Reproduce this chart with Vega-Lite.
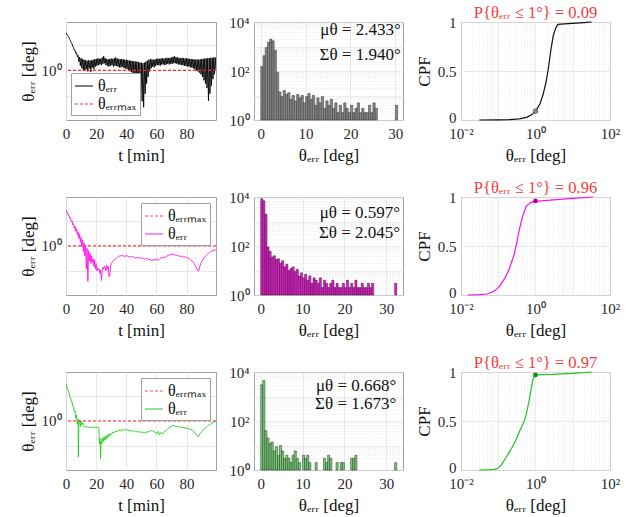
{
"$schema": "https://vega.github.io/schema/vega-lite/v6.json",
"background": "white",
"padding": {"left": 18, "top": 4, "right": 5, "bottom": 2},
"config": {
  "font": "Liberation Serif",
  "axis": {"labelFont": "Liberation Serif", "titleFont": "Liberation Serif", "labelFontSize": 15, "titleFontSize": 17, "titleFontWeight": "normal", "labelColor": "#262626", "titleColor": "#111111", "gridColor": "#e2e2e2", "gridWidth": 0.8, "domain": false, "ticks": false, "labelFlush": false, "labelOverlap": false, "labelPadding": 5, "titlePadding": 4},
  "axisX": {"labelPadding": 6, "titlePadding": 6},
  "view": {"stroke": "#a0a0a0", "strokeWidth": 1},
  "title": {"font": "Liberation Serif", "fontSize": 16.5, "fontWeight": "normal", "color": "#f03c3c", "offset": -6},
  "text": {"font": "Liberation Serif"},
  "legend": {"labelFont": "Liberation Serif", "labelFontSize": 16, "symbolType": "stroke", "symbolSize": 330, "symbolStrokeWidth": 1.2, "fillColor": "white", "strokeColor": "#a0a0a0", "padding": 3, "rowPadding": 0, "offset": 6, "labelLimit": 200, "labelColor": "#111111"}
},
"datasets": {
  "ts1": [
{"t":0,"v":30},{"t":0.5,"v":27},{"t":1,"v":24},{"t":1.5,"v":21.5},{"t":2,"v":19},{"t":2.5,"v":16.5},{"t":3,"v":14.5},{"t":3.5,"v":12.5},{"t":4,"v":11},{"t":4.5,"v":8.5},{"t":5,"v":8.2},{"t":5.5,"v":6.2},{"t":6,"v":6.3},{"t":6.5,"v":4.6},{"t":7,"v":4.9},{"t":7.5,"v":3.4},{"t":8,"v":3.9},{"t":8.5,"v":2.2},{"t":9,"v":3.3},{"t":9.5,"v":1.5},
{"t":10,"v":3.0},{"t":10.5,"v":1.2},{"t":11,"v":2.8},{"t":11.5,"v":1.0},{"t":12,"v":2.6},{"t":12.5,"v":0.95},{"t":13,"v":2.5},{"t":13.5,"v":1.1},{"t":14,"v":2.4},{"t":14.5,"v":0.9},{"t":15,"v":2.5},{"t":15.5,"v":1.2},{"t":16,"v":2.4},{"t":16.5,"v":0.85},{"t":17,"v":2.5},{"t":17.5,"v":1.3},{"t":18,"v":2.6},{"t":18.5,"v":1.1},{"t":19,"v":2.7},{"t":19.5,"v":1.4},
{"t":20,"v":2.8},{"t":20.5,"v":1.5},{"t":21,"v":2.9},{"t":21.5,"v":1.6},{"t":22,"v":2.9},{"t":22.5,"v":1.7},{"t":23,"v":2.8},{"t":23.5,"v":1.6},{"t":24,"v":3.2},{"t":24.5,"v":1.8},{"t":25,"v":3.6},{"t":25.5,"v":1.9},{"t":26,"v":3.0},{"t":26.5,"v":1.6},{"t":27,"v":2.8},{"t":27.5,"v":1.5},{"t":28,"v":2.7},{"t":28.5,"v":1.4},{"t":29,"v":2.8},{"t":29.5,"v":1.5},
{"t":30,"v":2.9},{"t":30.5,"v":1.6},{"t":31,"v":2.8},{"t":31.5,"v":1.4},{"t":32,"v":3.0},{"t":32.5,"v":1.5},{"t":33,"v":3.2},{"t":33.5,"v":1.5},{"t":34,"v":2.9},{"t":34.5,"v":1.4},{"t":35,"v":2.8},{"t":35.5,"v":1.3},{"t":36,"v":2.7},{"t":36.5,"v":1.3},{"t":37,"v":2.8},{"t":37.5,"v":1.4},{"t":38,"v":2.7},{"t":38.5,"v":1.2},{"t":39,"v":2.6},{"t":39.5,"v":1.2},
{"t":40,"v":2.6},{"t":40.5,"v":1.1},{"t":41,"v":2.5},{"t":41.5,"v":1.0},{"t":42,"v":2.4},{"t":42.5,"v":0.9},{"t":43,"v":2.4},{"t":43.5,"v":0.85},{"t":44,"v":2.3},{"t":44.5,"v":0.7},{"t":45,"v":2.3},{"t":45.5,"v":0.6},{"t":46,"v":2.2},{"t":46.5,"v":0.45},{"t":47,"v":2.2},{"t":47.5,"v":0.35},{"t":48,"v":2.1},{"t":48.5,"v":0.25},{"t":49,"v":2.0},{"t":49.5,"v":0.15},
{"t":50,"v":2.0},{"t":50.5,"v":0.06},{"t":51,"v":1.9},{"t":51.5,"v":0.035},{"t":52,"v":2.0},{"t":52.5,"v":0.12},{"t":53,"v":2.2},{"t":53.5,"v":0.3},{"t":54,"v":2.4},{"t":54.5,"v":0.55},{"t":55,"v":2.6},{"t":55.5,"v":0.9},{"t":56,"v":2.8},{"t":56.5,"v":1.2},{"t":57,"v":2.7},{"t":57.5,"v":1.4},{"t":58,"v":2.6},{"t":58.5,"v":1.3},{"t":59,"v":2.7},{"t":59.5,"v":1.5},
{"t":60,"v":2.8},{"t":60.5,"v":1.6},{"t":61,"v":2.9},{"t":61.5,"v":1.6},{"t":62,"v":2.8},{"t":62.5,"v":1.5},{"t":63,"v":2.9},{"t":63.5,"v":1.7},{"t":64,"v":3.0},{"t":64.5,"v":1.7},{"t":65,"v":2.9},{"t":65.5,"v":1.6},{"t":66,"v":3.0},{"t":66.5,"v":1.7},{"t":67,"v":3.1},{"t":67.5,"v":1.8},{"t":68,"v":3.0},{"t":68.5,"v":1.7},{"t":69,"v":3.1},{"t":69.5,"v":1.8},
{"t":70,"v":3.2},{"t":70.5,"v":1.8},{"t":71,"v":3.4},{"t":71.5,"v":1.9},{"t":72,"v":3.6},{"t":72.5,"v":1.9},{"t":73,"v":3.3},{"t":73.5,"v":1.8},{"t":74,"v":3.2},{"t":74.5,"v":1.7},{"t":75,"v":3.1},{"t":75.5,"v":1.7},{"t":76,"v":3.0},{"t":76.5,"v":1.6},{"t":77,"v":3.1},{"t":77.5,"v":1.6},{"t":78,"v":3.0},{"t":78.5,"v":1.5},{"t":79,"v":2.9},{"t":79.5,"v":1.5},
{"t":80,"v":3.0},{"t":80.5,"v":1.4},{"t":81,"v":2.9},{"t":81.5,"v":1.4},{"t":82,"v":2.8},{"t":82.5,"v":1.3},{"t":83,"v":2.8},{"t":83.5,"v":1.3},{"t":84,"v":2.7},{"t":84.5,"v":1.2},{"t":85,"v":2.7},{"t":85.5,"v":1.1},{"t":86,"v":2.6},{"t":86.5,"v":1.0},{"t":87,"v":2.7},{"t":87.5,"v":0.9},{"t":88,"v":2.6},{"t":88.5,"v":0.8},{"t":89,"v":2.7},{"t":89.5,"v":0.7},
{"t":90,"v":2.8},{"t":90.5,"v":0.55},{"t":91,"v":2.8},{"t":91.5,"v":0.4},{"t":92,"v":2.9},{"t":92.5,"v":0.3},{"t":93,"v":2.9},{"t":93.5,"v":0.2},{"t":94,"v":3.0},{"t":94.5,"v":0.063},{"t":95,"v":3.0},{"t":95.5,"v":0.12},{"t":96,"v":3.1},{"t":96.5,"v":0.25},{"t":97,"v":3.1},{"t":97.5,"v":0.45},{"t":98,"v":3.2},{"t":98.5,"v":0.7},{"t":99,"v":3.2},{"t":99.5,"v":1.0}
  ],
  "ts2": [
{"t":0,"v":28},{"t":0.5,"v":22},{"t":1,"v":22},{"t":1.5,"v":16.5},{"t":2,"v":17},{"t":2.5,"v":12.8},{"t":3,"v":13.2},{"t":3.5,"v":9.5},{"t":4,"v":10.2},{"t":4.5,"v":7.0},{"t":5,"v":7.9},{"t":5.5,"v":5.0},{"t":6,"v":6.2},{"t":6.5,"v":3.8},{"t":7,"v":4.8},{"t":7.5,"v":2.8},{"t":8,"v":3.7},{"t":8.5,"v":2.0},{"t":9,"v":2.9},{"t":9.5,"v":1.4},
{"t":10,"v":2.2},{"t":10.5,"v":0.9},{"t":11,"v":1.75},{"t":11.5,"v":0.6},{"t":12,"v":1.35},{"t":12.5,"v":0.4},{"t":13,"v":1.05},{"t":13.5,"v":0.12},{"t":14,"v":0.82},{"t":14.5,"v":0.039},{"t":15,"v":0.65},{"t":15.5,"v":0.25},{"t":16,"v":0.5},{"t":16.5,"v":0.2},{"t":17,"v":0.4},{"t":17.5,"v":0.22},{"t":18,"v":0.3},{"t":18.5,"v":0.15},{"t":19,"v":0.28},{"t":19.5,"v":0.12},
{"t":20,"v":0.2},{"t":20.5,"v":0.1},{"t":21,"v":0.13},{"t":21.5,"v":0.11},{"t":22,"v":0.12},{"t":22.5,"v":0.08},{"t":23,"v":0.11},{"t":23.5,"v":0.042},{"t":24,"v":0.1},{"t":24.5,"v":0.14},{"t":25,"v":0.12},{"t":25.5,"v":0.16},{"t":26,"v":0.14},{"t":26.5,"v":0.1},{"t":27,"v":0.17},{"t":27.5,"v":0.12},{"t":28,"v":0.15},{"t":28.5,"v":0.06},{"t":29,"v":0.062},{"t":29.5,"v":0.15},
{"t":30,"v":0.2},{"t":31,"v":0.24},{"t":32,"v":0.28},{"t":33,"v":0.31},{"t":34,"v":0.35},{"t":35,"v":0.39},{"t":36,"v":0.40},{"t":37,"v":0.42},{"t":38,"v":0.40},{"t":39,"v":0.38},{"t":40,"v":0.41},{"t":41,"v":0.39},{"t":42,"v":0.37},{"t":43,"v":0.36},{"t":44,"v":0.38},{"t":45,"v":0.35},{"t":46,"v":0.33},{"t":47,"v":0.34},{"t":48,"v":0.33},{"t":49,"v":0.34},
{"t":50,"v":0.32},{"t":51,"v":0.33},{"t":52,"v":0.31},{"t":53,"v":0.30},{"t":54,"v":0.32},{"t":55,"v":0.28},{"t":56,"v":0.30},{"t":57,"v":0.25},{"t":58,"v":0.29},{"t":59,"v":0.27},{"t":60,"v":0.31},{"t":61,"v":0.26},{"t":62,"v":0.30},{"t":63,"v":0.34},{"t":64,"v":0.33},{"t":65,"v":0.36},{"t":66,"v":0.35},{"t":67,"v":0.40},{"t":68,"v":0.42},{"t":69,"v":0.45},
{"t":70,"v":0.47},{"t":71,"v":0.46},{"t":72,"v":0.44},{"t":73,"v":0.43},{"t":74,"v":0.41},{"t":75,"v":0.40},{"t":76,"v":0.38},{"t":77,"v":0.39},{"t":78,"v":0.36},{"t":79,"v":0.37},{"t":80,"v":0.34},{"t":81,"v":0.33},{"t":82,"v":0.30},{"t":83,"v":0.27},{"t":84,"v":0.24},{"t":85,"v":0.20},{"t":86,"v":0.15},{"t":87,"v":0.12},{"t":87.8,"v":0.098},{"t":88.5,"v":0.13},
{"t":89,"v":0.17},{"t":90,"v":0.24},{"t":91,"v":0.30},{"t":92,"v":0.36},{"t":93,"v":0.42},{"t":94,"v":0.48},{"t":95,"v":0.55},{"t":96,"v":0.60},{"t":97,"v":0.64},{"t":98,"v":0.67},{"t":99,"v":0.68},{"t":99.5,"v":0.70}
  ],
  "ts3": [
{"t":0,"v":31},{"t":0.5,"v":24},{"t":1,"v":20},{"t":1.5,"v":15.5},{"t":2,"v":13.2},{"t":2.5,"v":9.5},{"t":3,"v":8.7},{"t":3.5,"v":6.0},{"t":4,"v":5.8},{"t":4.5,"v":3.8},{"t":5,"v":3.8},{"t":5.5,"v":2.3},{"t":6,"v":2.5},{"t":6.5,"v":1.3},{"t":7,"v":1.7},{"t":7.5,"v":0.75},{"t":8,"v":1.2},{"t":8.2,"v":0.036},{"t":8.5,"v":0.9},{"t":9,"v":1.1},
{"t":9.5,"v":0.6},{"t":10,"v":1.0},{"t":10.5,"v":0.7},{"t":11,"v":0.85},{"t":11.5,"v":0.65},{"t":12,"v":0.6},{"t":13,"v":0.58},{"t":14,"v":0.57},{"t":15,"v":0.57},{"t":16,"v":0.56},{"t":17,"v":0.57},{"t":18,"v":0.56},{"t":19,"v":0.56},{"t":20,"v":0.55},{"t":21,"v":0.55},{"t":21.8,"v":0.54},{"t":22.2,"v":0.12},{"t":22.6,"v":0.2},{"t":22.9,"v":0.032},{"t":23.3,"v":0.15},
{"t":23.7,"v":0.12},{"t":24,"v":0.2},{"t":24.5,"v":0.14},{"t":25,"v":0.22},{"t":25.5,"v":0.17},{"t":26,"v":0.25},{"t":26.5,"v":0.18},{"t":27,"v":0.26},{"t":27.5,"v":0.22},{"t":28,"v":0.3},{"t":28.5,"v":0.24},{"t":29,"v":0.31},{"t":30,"v":0.28},{"t":31,"v":0.36},{"t":32,"v":0.34},{"t":33,"v":0.40},{"t":34,"v":0.37},{"t":35,"v":0.44},{"t":36,"v":0.39},{"t":37,"v":0.46},
{"t":38,"v":0.41},{"t":39,"v":0.47},{"t":40,"v":0.42},{"t":41,"v":0.44},{"t":42,"v":0.40},{"t":43,"v":0.43},{"t":44,"v":0.38},{"t":45,"v":0.41},{"t":46,"v":0.37},{"t":47,"v":0.39},{"t":48,"v":0.35},{"t":49,"v":0.38},{"t":50,"v":0.34},{"t":51,"v":0.36},{"t":52,"v":0.33},{"t":53,"v":0.35},{"t":54,"v":0.36},{"t":55,"v":0.38},{"t":56,"v":0.40},{"t":57,"v":0.42},
{"t":58,"v":0.39},{"t":59,"v":0.36},{"t":60,"v":0.30},{"t":61,"v":0.38},{"t":62,"v":0.28},{"t":63,"v":0.35},{"t":64,"v":0.30},{"t":65,"v":0.37},{"t":66,"v":0.40},{"t":67,"v":0.45},{"t":68,"v":0.52},{"t":69,"v":0.58},{"t":70,"v":0.62},{"t":71,"v":0.66},{"t":72,"v":0.64},{"t":73,"v":0.60},{"t":74,"v":0.62},{"t":75,"v":0.57},{"t":76,"v":0.58},{"t":77,"v":0.54},
{"t":78,"v":0.56},{"t":79,"v":0.52},{"t":80,"v":0.53},{"t":81,"v":0.49},{"t":82,"v":0.47},{"t":83,"v":0.45},{"t":84,"v":0.42},{"t":85,"v":0.36},{"t":86,"v":0.30},{"t":87,"v":0.26},{"t":87.8,"v":0.23},{"t":88.5,"v":0.28},{"t":89,"v":0.32},{"t":90,"v":0.38},{"t":91,"v":0.43},{"t":92,"v":0.50},{"t":93,"v":0.55},{"t":94,"v":0.62},{"t":95,"v":0.70},{"t":96,"v":0.76},
{"t":97,"v":0.82},{"t":98,"v":0.88},{"t":99,"v":0.95},{"t":99.5,"v":1.0}
  ],
  "h1": [
{"a":0,"b":0.5,"n":150},{"a":0.5,"b":1,"n":420},{"a":1,"b":1.5,"n":900},{"a":1.5,"b":2,"n":1500},{"a":2,"b":2.5,"n":2000},{"a":2.5,"b":3,"n":1700},{"a":3,"b":3.5,"n":700},{"a":3.5,"b":4,"n":90},{"a":4,"b":4.5,"n":14},{"a":4.5,"b":5,"n":9},
{"a":5,"b":5.5,"n":16},{"a":5.5,"b":6,"n":11},{"a":6,"b":6.5,"n":13},{"a":6.5,"b":7,"n":7},{"a":7,"b":7.5,"n":10},{"a":7.5,"b":8,"n":6},{"a":8,"b":8.5,"n":11},{"a":8.5,"b":9,"n":8},{"a":9,"b":9.5,"n":10},{"a":9.5,"b":10,"n":5},
{"a":10,"b":10.5,"n":9},{"a":10.5,"b":11,"n":12},{"a":11,"b":11.5,"n":7},{"a":11.5,"b":12,"n":10},{"a":12,"b":12.5,"n":4},{"a":12.5,"b":13,"n":8},{"a":13,"b":13.5,"n":5},{"a":13.5,"b":14,"n":9},{"a":14,"b":14.5,"n":3},{"a":14.5,"b":15,"n":6},
{"a":15,"b":15.5,"n":4},{"a":15.5,"b":16,"n":7},{"a":16,"b":16.5,"n":3},{"a":16.5,"b":17,"n":5},{"a":17,"b":17.5,"n":2},{"a":17.5,"b":18,"n":4},{"a":18,"b":18.5,"n":2},{"a":18.5,"b":19,"n":5},{"a":19,"b":19.5,"n":3},{"a":19.5,"b":20,"n":2},
{"a":20,"b":20.5,"n":4},{"a":20.5,"b":21,"n":2},{"a":21,"b":21.5,"n":3},{"a":21.5,"b":22,"n":5},{"a":22,"b":22.5,"n":2},{"a":22.5,"b":23,"n":3},{"a":23,"b":23.5,"n":2},{"a":23.5,"b":24,"n":2},{"a":24,"b":24.5,"n":4},{"a":24.5,"b":25,"n":2},
{"a":25,"b":25.5,"n":5},{"a":25.5,"b":26,"n":3},{"a":30,"b":30.5,"n":4}
  ],
  "h2": [
{"a":0,"b":0.5,"n":8500},{"a":0.5,"b":1,"n":7000},{"a":1,"b":1.5,"n":2000},{"a":1.5,"b":2,"n":90},{"a":2,"b":2.5,"n":60},{"a":2.5,"b":3,"n":35},{"a":3,"b":3.5,"n":40},{"a":3.5,"b":4,"n":28},{"a":4,"b":4.5,"n":30},{"a":4.5,"b":5,"n":20},
{"a":5,"b":5.5,"n":25},{"a":5.5,"b":6,"n":14},{"a":6,"b":6.5,"n":18},{"a":6.5,"b":7,"n":10},{"a":7,"b":7.5,"n":12},{"a":7.5,"b":8,"n":14},{"a":8,"b":8.5,"n":9},{"a":8.5,"b":9,"n":11},{"a":9,"b":9.5,"n":6},{"a":9.5,"b":10,"n":8},
{"a":10,"b":10.5,"n":5},{"a":10.5,"b":11,"n":7},{"a":11,"b":11.5,"n":4},{"a":11.5,"b":12,"n":6},{"a":12,"b":12.5,"n":3},{"a":12.5,"b":13,"n":5},{"a":13,"b":13.5,"n":4},{"a":13.5,"b":14,"n":3},{"a":14,"b":14.5,"n":5},{"a":14.5,"b":15,"n":2},
{"a":15,"b":15.5,"n":4},{"a":15.5,"b":16,"n":3},{"a":16,"b":16.5,"n":2},{"a":16.5,"b":17,"n":3},{"a":17,"b":17.5,"n":4},{"a":17.5,"b":18,"n":2},{"a":18,"b":18.5,"n":3},{"a":18.5,"b":19,"n":2},{"a":19,"b":19.5,"n":2},{"a":19.5,"b":20,"n":3},
{"a":20,"b":20.5,"n":2},{"a":20.5,"b":21,"n":4},{"a":21,"b":21.5,"n":2},{"a":21.5,"b":22,"n":3},{"a":22,"b":22.5,"n":2},{"a":22.5,"b":23,"n":4},{"a":23,"b":23.5,"n":2},{"a":23.5,"b":24,"n":2},{"a":24,"b":24.5,"n":3},{"a":24.5,"b":25,"n":2},
{"a":25,"b":25.5,"n":2},{"a":25.5,"b":26,"n":3},{"a":26,"b":26.5,"n":2},{"a":26.5,"b":27,"n":3},{"a":32,"b":32.5,"n":3}
  ],
  "h3": [
{"a":0,"b":0.5,"n":3000},{"a":0.5,"b":1,"n":4500},{"a":1,"b":1.5,"n":40},{"a":1.5,"b":2,"n":20},{"a":2,"b":2.5,"n":12},{"a":2.5,"b":3,"n":14},{"a":3,"b":3.5,"n":6},{"a":3.5,"b":4,"n":9},{"a":4,"b":4.5,"n":4},{"a":4.5,"b":5,"n":10},
{"a":5,"b":5.5,"n":6},{"a":5.5,"b":6,"n":3},{"a":6,"b":6.5,"n":4},{"a":6.5,"b":7,"n":3},{"a":7,"b":7.5,"n":2},{"a":7.5,"b":8,"n":4},{"a":8,"b":8.5,"n":6},{"a":8.5,"b":9,"n":3},{"a":9,"b":9.5,"n":2},{"a":10,"b":10.5,"n":4},
{"a":10.5,"b":11,"n":3},{"a":11,"b":11.5,"n":4},{"a":11.5,"b":12,"n":2},{"a":13,"b":13.5,"n":2},{"a":15,"b":15.5,"n":3},{"a":15.5,"b":16,"n":2},{"a":16,"b":16.5,"n":4},{"a":16.5,"b":17,"n":3},{"a":18,"b":18.5,"n":2},{"a":19,"b":19.5,"n":2},
{"a":19.5,"b":20,"n":2},{"a":21.5,"b":22,"n":3},{"a":22,"b":22.5,"n":3},{"a":22.5,"b":23,"n":4},{"a":32,"b":32.5,"n":2}
  ],
  "c1": [
{"x":0.031,"p":0},{"x":0.1,"p":0.001},{"x":0.2,"p":0.004},{"x":0.37,"p":0.012},{"x":0.6,"p":0.03},{"x":0.8,"p":0.055},{"x":1.0,"p":0.09},{"x":1.3,"p":0.16},{"x":1.6,"p":0.26},{"x":1.9,"p":0.38},{"x":2.2,"p":0.52},{"x":2.6,"p":0.72},{"x":3.0,"p":0.86},{"x":3.5,"p":0.94},{"x":4.0,"p":0.975},{"x":6,"p":0.98},{"x":10,"p":0.985},{"x":20,"p":0.993},{"x":32,"p":1.0}
  ],
  "c2": [
{"x":0.015,"p":0},{"x":0.03,"p":0.003},{"x":0.05,"p":0.01},{"x":0.07,"p":0.03},{"x":0.09,"p":0.06},{"x":0.107,"p":0.085},{"x":0.15,"p":0.17},{"x":0.2,"p":0.27},{"x":0.27,"p":0.42},{"x":0.32,"p":0.55},{"x":0.37,"p":0.67},{"x":0.45,"p":0.8},{"x":0.56,"p":0.905},{"x":0.75,"p":0.945},{"x":1.0,"p":0.956},{"x":3,"p":0.97},{"x":10,"p":0.985},{"x":35,"p":1.0}
  ],
  "c3": [
{"x":0.031,"p":0},{"x":0.06,"p":0.003},{"x":0.08,"p":0.006},{"x":0.1,"p":0.02},{"x":0.12,"p":0.05},{"x":0.14,"p":0.09},{"x":0.16,"p":0.125},{"x":0.19,"p":0.17},{"x":0.22,"p":0.21},{"x":0.3,"p":0.31},{"x":0.4,"p":0.42},{"x":0.5,"p":0.5},{"x":0.56,"p":0.56},{"x":0.66,"p":0.69},{"x":0.76,"p":0.82},{"x":0.85,"p":0.92},{"x":0.93,"p":0.96},{"x":1.0,"p":0.97},{"x":3,"p":0.975},{"x":10,"p":0.985},{"x":32,"p":1.0}
  ],
  "pt1": [{"x":1,"p":0.09}],
  "pt2": [{"x":1,"p":0.96}],
  "pt3": [{"x":1,"p":0.97}]
},
"spacing": 15,
"resolve": {"scale": {"color": "independent"}, "legend": {"color": "independent"}},
"vconcat": [
 {"spacing": 10, "resolve": {"scale": {"color": "independent"}, "legend": {"color": "independent"}},
  "hconcat": [
  {"spacing": 10, "resolve": {"scale": {"color": "independent"}, "legend": {"color": "independent"}},
   "hconcat": [
   {"width": 150, "height": 98,
    "layer": [
     {"data": {"name": "ts1"}, "mark": {"type": "line", "strokeWidth": 0.9, "clip": true},
      "encoding": {
       "x": {"field": "t", "type": "quantitative", "scale": {"domain": [0, 99.5], "nice": false}, "axis": {"values": [0, 20, 40, 60, 80], "title": "t [min]"}},
       "y": {"field": "v", "type": "quantitative", "scale": {"type": "log", "domain": [0.011, 80], "nice": false}, "axis": {"values": [0.1, 1, 10], "labelExpr": "datum.value == 1 ? '10⁰' : ''", "title": "θₑᵣᵣ [deg]"}},
       "color": {"datum": "θₑᵣᵣ", "type": "nominal", "scale": {"domain": ["θₑᵣᵣ", "θₑᵣᵣₘₐₓ"], "range": ["#000000", "#ff2a2a"]},
        "legend": {"title": null, "orient": "bottom-left", "offset": 5, "encode": {"symbols": {"update": {"strokeDash": {"signal": "datum.index == 1 ? [3, 2] : [1, 0]"}}}}}}
      }},
     {"data": {"values": [{}]}, "mark": {"type": "rule", "strokeDash": [3, 2], "strokeWidth": 1.2, "color": "#ff2a2a"},
      "encoding": {"y": {"datum": 1}}}
    ]},
   {"width": 149, "height": 98,
    "layer": [
     {"data": {"name": "h1"}, "mark": {"type": "bar", "fill": "#8a8a8a", "stroke": "#2a2a2a", "strokeWidth": 0.5},
      "encoding": {
       "x": {"field": "a", "type": "quantitative", "scale": {"domain": [-1.5, 31.7], "nice": false, "zero": false}, "axis": {"values": [0, 10, 20, 30], "title": "θₑᵣᵣ [deg]"}},
       "x2": {"field": "b"},
       "y": {"field": "n", "type": "quantitative", "scale": {"type": "log", "domain": [1, 10000], "nice": false}, "axis": {"title": null, "values": [1,2,3,4,5,6,7,8,9,10,20,30,40,50,60,70,80,90,100,200,300,400,500,600,700,800,900,1000,2000,3000,4000,5000,6000,7000,8000,9000,10000], "labelExpr": "datum.value == 1 ? '10⁰' : datum.value == 100 ? '10²' : datum.value == 10000 ? '10⁴' : ''", "gridDash": {"condition": {"test": "indexof([1,10,100,1000,10000], datum.value) >= 0", "value": [1, 0]}, "value": [1, 2]}}},
       "y2": {"datum": 1}
      }},
     {"data": {"values": [{}]}, "mark": {"type": "text", "align": "right", "baseline": "middle", "fontSize": 17, "color": "#111111"},
      "encoding": {"x": {"datum": 31.2}, "y": {"datum": 4700}, "text": {"value": "μθ = 2.433°"}}},
     {"data": {"values": [{}]}, "mark": {"type": "text", "align": "right", "baseline": "middle", "fontSize": 17, "color": "#111111"},
      "encoding": {"x": {"datum": 31.2}, "y": {"datum": 465}, "text": {"value": "Σθ = 1.940°"}}}
    ]}
   ]},
   {"width": 149, "height": 98, "title": "P{θₑᵣᵣ ≤ 1°} = 0.09",
    "layer": [
     {"data": {"name": "c1"}, "mark": {"type": "line", "color": "#111111", "strokeWidth": 1.2},
      "encoding": {
       "x": {"field": "x", "type": "quantitative", "scale": {"type": "log", "domain": [0.01, 100], "nice": false}, "axis": {"title": "θₑᵣᵣ [deg]", "values": [0.01,0.02,0.03,0.04,0.05,0.06,0.07,0.08,0.09,0.1,0.2,0.3,0.4,0.5,0.6,0.7,0.8,0.9,1,2,3,4,5,6,7,8,9,10,20,30,40,50,60,70,80,90,100], "labelExpr": "datum.value == 0.01 ? '10⁻²' : datum.value == 1 ? '10⁰' : datum.value == 100 ? '10²' : ''", "gridDash": {"condition": {"test": "indexof([0.01,0.1,1,10,100], datum.value) >= 0", "value": [1, 0]}, "value": [1, 2]}}},
       "y": {"field": "p", "type": "quantitative", "scale": {"domain": [0, 1], "nice": false}, "axis": {"title": "CPF", "values": [0, 0.5, 1], "labelExpr": "datum.value == 0.5 ? '0.5' : format(datum.value, 'd')", "labelOffset": {"condition": {"test": "datum.value == 0", "value": -3}, "value": 0}}}
      }},
     {"data": {"name": "pt1"}, "mark": {"type": "point", "filled": true, "size": 22, "color": "#8a8a8a", "stroke": "#444444", "strokeWidth": 0.6, "opacity": 1},
      "encoding": {"x": {"field": "x", "type": "quantitative"}, "y": {"field": "p", "type": "quantitative"}}}
    ]}
  ]},
 {"spacing": 10, "resolve": {"scale": {"color": "independent"}, "legend": {"color": "independent"}},
  "hconcat": [
  {"spacing": 10, "resolve": {"scale": {"color": "independent"}, "legend": {"color": "independent"}},
   "hconcat": [
   {"width": 150, "height": 98,
    "layer": [
     {"data": {"name": "ts2"}, "mark": {"type": "line", "strokeWidth": 0.9, "clip": true},
      "encoding": {
       "x": {"field": "t", "type": "quantitative", "scale": {"domain": [0, 99.5], "nice": false}, "axis": {"values": [0, 20, 40, 60, 80], "title": "t [min]"}},
       "y": {"field": "v", "type": "quantitative", "scale": {"type": "log", "domain": [0.011, 90], "nice": false}, "axis": {"values": [0.1, 1, 10], "labelExpr": "datum.value == 1 ? '10⁰' : ''", "title": "θₑᵣᵣ [deg]"}},
       "color": {"datum": "θₑᵣᵣ", "type": "nominal", "scale": {"domain": ["θₑᵣᵣₘₐₓ", "θₑᵣᵣ"], "range": ["#ff3b3b", "#ff14ee"]},
        "legend": {"title": null, "orient": "top-right", "offset": 6, "encode": {"symbols": {"update": {"strokeDash": {"signal": "datum.index == 0 ? [3, 2] : [1, 0]"}}}}}}
      }},
     {"data": {"values": [{}]}, "mark": {"type": "rule", "strokeDash": [3, 2], "strokeWidth": 1.2, "color": "#ff3b3b"},
      "encoding": {"y": {"datum": 1}}}
    ]},
   {"width": 149, "height": 98,
    "layer": [
     {"data": {"name": "h2"}, "mark": {"type": "bar", "fill": "#e022c8", "stroke": "#3a0a34", "strokeWidth": 0.5},
      "encoding": {
       "x": {"field": "a", "type": "quantitative", "scale": {"domain": [-1.6, 34], "nice": false, "zero": false}, "axis": {"values": [0, 10, 20, 30], "title": "θₑᵣᵣ [deg]"}},
       "x2": {"field": "b"},
       "y": {"field": "n", "type": "quantitative", "scale": {"type": "log", "domain": [1, 10000], "nice": false}, "axis": {"title": null, "values": [1,2,3,4,5,6,7,8,9,10,20,30,40,50,60,70,80,90,100,200,300,400,500,600,700,800,900,1000,2000,3000,4000,5000,6000,7000,8000,9000,10000], "labelExpr": "datum.value == 1 ? '10⁰' : datum.value == 100 ? '10²' : datum.value == 10000 ? '10⁴' : ''", "gridDash": {"condition": {"test": "indexof([1,10,100,1000,10000], datum.value) >= 0", "value": [1, 0]}, "value": [1, 2]}}},
       "y2": {"datum": 1}
      }},
     {"data": {"values": [{}]}, "mark": {"type": "text", "align": "right", "baseline": "middle", "fontSize": 17, "color": "#111111"},
      "encoding": {"x": {"datum": 33.3}, "y": {"datum": 2140}, "text": {"value": "μθ = 0.597°"}}},
     {"data": {"values": [{}]}, "mark": {"type": "text", "align": "right", "baseline": "middle", "fontSize": 17, "color": "#111111"},
      "encoding": {"x": {"datum": 33.3}, "y": {"datum": 333}, "text": {"value": "Σθ = 2.045°"}}}
    ]}
   ]},
   {"width": 149, "height": 98, "title": "P{θₑᵣᵣ ≤ 1°} = 0.96",
    "layer": [
     {"data": {"name": "c2"}, "mark": {"type": "line", "color": "#f014e0", "strokeWidth": 1.2},
      "encoding": {
       "x": {"field": "x", "type": "quantitative", "scale": {"type": "log", "domain": [0.01, 100], "nice": false}, "axis": {"title": "θₑᵣᵣ [deg]", "values": [0.01,0.02,0.03,0.04,0.05,0.06,0.07,0.08,0.09,0.1,0.2,0.3,0.4,0.5,0.6,0.7,0.8,0.9,1,2,3,4,5,6,7,8,9,10,20,30,40,50,60,70,80,90,100], "labelExpr": "datum.value == 0.01 ? '10⁻²' : datum.value == 1 ? '10⁰' : datum.value == 100 ? '10²' : ''", "gridDash": {"condition": {"test": "indexof([0.01,0.1,1,10,100], datum.value) >= 0", "value": [1, 0]}, "value": [1, 2]}}},
       "y": {"field": "p", "type": "quantitative", "scale": {"domain": [0, 1], "nice": false}, "axis": {"title": "CPF", "values": [0, 0.5, 1], "labelExpr": "datum.value == 0.5 ? '0.5' : format(datum.value, 'd')", "labelOffset": {"condition": {"test": "datum.value == 0", "value": -3}, "value": 0}}}
      }},
     {"data": {"name": "pt2"}, "mark": {"type": "point", "filled": true, "size": 22, "color": "#b00098", "opacity": 1},
      "encoding": {"x": {"field": "x", "type": "quantitative"}, "y": {"field": "p", "type": "quantitative"}}}
    ]}
  ]},
 {"spacing": 10, "resolve": {"scale": {"color": "independent"}, "legend": {"color": "independent"}},
  "hconcat": [
  {"spacing": 10, "resolve": {"scale": {"color": "independent"}, "legend": {"color": "independent"}},
   "hconcat": [
   {"width": 150, "height": 98,
    "layer": [
     {"data": {"name": "ts3"}, "mark": {"type": "line", "strokeWidth": 0.9, "clip": true},
      "encoding": {
       "x": {"field": "t", "type": "quantitative", "scale": {"domain": [0, 99.5], "nice": false}, "axis": {"values": [0, 20, 40, 60, 80], "title": "t [min]"}},
       "y": {"field": "v", "type": "quantitative", "scale": {"type": "log", "domain": [0.011, 90], "nice": false}, "axis": {"values": [0.1, 1, 10], "labelExpr": "datum.value == 1 ? '10⁰' : ''", "title": "θₑᵣᵣ [deg]"}},
       "color": {"datum": "θₑᵣᵣ", "type": "nominal", "scale": {"domain": ["θₑᵣᵣₘₐₓ", "θₑᵣᵣ"], "range": ["#ff4f4f", "#22cc22"]},
        "legend": {"title": null, "orient": "top-right", "offset": 6, "encode": {"symbols": {"update": {"strokeDash": {"signal": "datum.index == 0 ? [3, 2] : [1, 0]"}}}}}}
      }},
     {"data": {"values": [{}]}, "mark": {"type": "rule", "strokeDash": [3, 2], "strokeWidth": 1.2, "color": "#ff4f4f"},
      "encoding": {"y": {"datum": 1}}}
    ]},
   {"width": 149, "height": 98,
    "layer": [
     {"data": {"name": "h3"}, "mark": {"type": "bar", "fill": "#7fcf7f", "stroke": "#142e14", "strokeWidth": 0.5},
      "encoding": {
       "x": {"field": "a", "type": "quantitative", "scale": {"domain": [-1.6, 34], "nice": false, "zero": false}, "axis": {"values": [0, 10, 20, 30], "title": "θₑᵣᵣ [deg]"}},
       "x2": {"field": "b"},
       "y": {"field": "n", "type": "quantitative", "scale": {"type": "log", "domain": [1, 10000], "nice": false}, "axis": {"title": null, "values": [1,2,3,4,5,6,7,8,9,10,20,30,40,50,60,70,80,90,100,200,300,400,500,600,700,800,900,1000,2000,3000,4000,5000,6000,7000,8000,9000,10000], "labelExpr": "datum.value == 1 ? '10⁰' : datum.value == 100 ? '10²' : datum.value == 10000 ? '10⁴' : ''", "gridDash": {"condition": {"test": "indexof([1,10,100,1000,10000], datum.value) >= 0", "value": [1, 0]}, "value": [1, 2]}}},
       "y2": {"datum": 1}
      }},
     {"data": {"values": [{}]}, "mark": {"type": "text", "align": "right", "baseline": "middle", "fontSize": 17, "color": "#111111"},
      "encoding": {"x": {"datum": 32.4}, "y": {"datum": 2600}, "text": {"value": "μθ = 0.668°"}}},
     {"data": {"values": [{}]}, "mark": {"type": "text", "align": "right", "baseline": "middle", "fontSize": 17, "color": "#111111"},
      "encoding": {"x": {"datum": 32.4}, "y": {"datum": 500}, "text": {"value": "Σθ = 1.673°"}}}
    ]}
   ]},
   {"width": 149, "height": 98, "title": "P{θₑᵣᵣ ≤ 1°} = 0.97",
    "layer": [
     {"data": {"name": "c3"}, "mark": {"type": "line", "color": "#22c422", "strokeWidth": 1.2},
      "encoding": {
       "x": {"field": "x", "type": "quantitative", "scale": {"type": "log", "domain": [0.01, 100], "nice": false}, "axis": {"title": "θₑᵣᵣ [deg]", "values": [0.01,0.02,0.03,0.04,0.05,0.06,0.07,0.08,0.09,0.1,0.2,0.3,0.4,0.5,0.6,0.7,0.8,0.9,1,2,3,4,5,6,7,8,9,10,20,30,40,50,60,70,80,90,100], "labelExpr": "datum.value == 0.01 ? '10⁻²' : datum.value == 1 ? '10⁰' : datum.value == 100 ? '10²' : ''", "gridDash": {"condition": {"test": "indexof([0.01,0.1,1,10,100], datum.value) >= 0", "value": [1, 0]}, "value": [1, 2]}}},
       "y": {"field": "p", "type": "quantitative", "scale": {"domain": [0, 1], "nice": false}, "axis": {"title": "CPF", "values": [0, 0.5, 1], "labelExpr": "datum.value == 0.5 ? '0.5' : format(datum.value, 'd')", "labelOffset": {"condition": {"test": "datum.value == 0", "value": -3}, "value": 0}}}
      }},
     {"data": {"name": "pt3"}, "mark": {"type": "point", "filled": true, "size": 22, "color": "#0e8a0e", "opacity": 1},
      "encoding": {"x": {"field": "x", "type": "quantitative"}, "y": {"field": "p", "type": "quantitative"}}}
    ]}
  ]}
]
}
